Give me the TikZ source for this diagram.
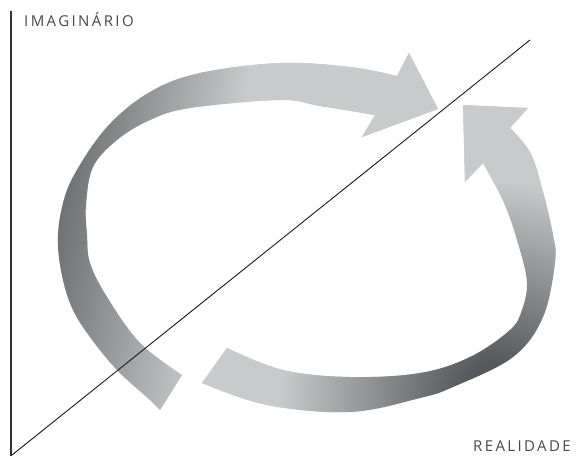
\documentclass[tikz,border=0pt]{standalone}
\usepackage{fontspec}
\setmainfont{Open Sans}
\newfontfamily\labelfont[LetterSpace=16]{Open Sans}
\usetikzlibrary{calc}
\definecolor{arrlight}{HTML}{C9CACC}
\definecolor{arrdark}{HTML}{6B6C6F}
\definecolor{arrdarker}{HTML}{56575A}
\definecolor{txtgray}{HTML}{48484A}
\pgfdeclareradialshading{arrtworadial}{\pgfpoint{0bp}{0bp}}{color(0bp)=(arrdarker); color(30bp)=(arrdarker); color(215bp)=(arrlight); color(420bp)=(arrlight)}
\pgfdeclarehorizontalshading{arroneaxis}{1000bp}{color(0bp)=(arrdark); color(75bp)=(arrdark); color(245bp)=(arrlight); color(700bp)=(arrlight)}
\begin{document}
\begin{tikzpicture}[x=1pt,y=-1pt,
  axisline/.style={draw=black!80, line width=1.1pt},
  diagline/.style={draw=black!90, line width=0.9pt},
  lbl/.style={text=txtgray, inner sep=0pt}]
\useasboundingbox (0,0) rectangle (576,456);

% Arrow 1 (left arc, pointing right at top)
\begin{scope}
\clip (160,410) -- plot[smooth, tension=0.6] coordinates {(160,410) (150,400) (117,370) (90,337) (73,310) (63,280) (58,245) (61,212) (73,177) (107,127) (150,92) (200,73) (280,63) (350,67) (397,76)}
  -- (409,53) -- (438,109) -- (362,137)
  -- plot[smooth, tension=0.6] coordinates {(375,115) (320,106) (280,100) (190,108) (150,120) (117,140) (93,167) (86,205) (87,235) (90,263) (107,297) (140,343) (182,375)} -- cycle;
\fill[arrlight] (0,0) rectangle (576,456);
\node[inner sep=0pt, outer sep=0pt, rotate=-10] (shadeone) at (322,269) {\pgfuseshading{arroneaxis}};
\end{scope}

% Arrow 2 (right/bottom arc, pointing up at top)
\begin{scope}
\clip (202,383) -- plot[smooth, tension=0.6] coordinates {(202,383) (267,405) (350,412) (420,398) (453,387) (513,357) (543,317) (555,262) (553,235) (542,188) (530,152) (510,128)}
  -- (528,108) -- (463,105) -- (465,182)
  -- plot[smooth, tension=0.6] coordinates {(483,163) (505,205) (520,250) (527,283) (522,310) (510,330) (470,357) (420,373) (350,377) (283,370) (227,348)} -- cycle;
\fill[arrlight] (0,0) rectangle (576,456);
\node[inner sep=0pt, outer sep=0pt] (shadetwo) at (495,395) {\pgfuseshading{arrtworadial}};
\end{scope}

% axes
\coordinate (axtop) at (11,11);
\coordinate (axbot) at (11,456);
\draw[axisline] (axtop) -- (axbot);
\coordinate (dstart) at (12,455);
\coordinate (dend) at (530,40);
\draw[diagline] (dstart) -- (dend);

\node[lbl, anchor=base west] (imag) at (24,26) {\labelfont\fontsize{15}{16}\selectfont IMAGINÁRIO};
\node[lbl, anchor=base east] (real) at (571,451) {\labelfont\fontsize{15}{16}\selectfont REALIDADE};
\end{tikzpicture}
\end{document}
